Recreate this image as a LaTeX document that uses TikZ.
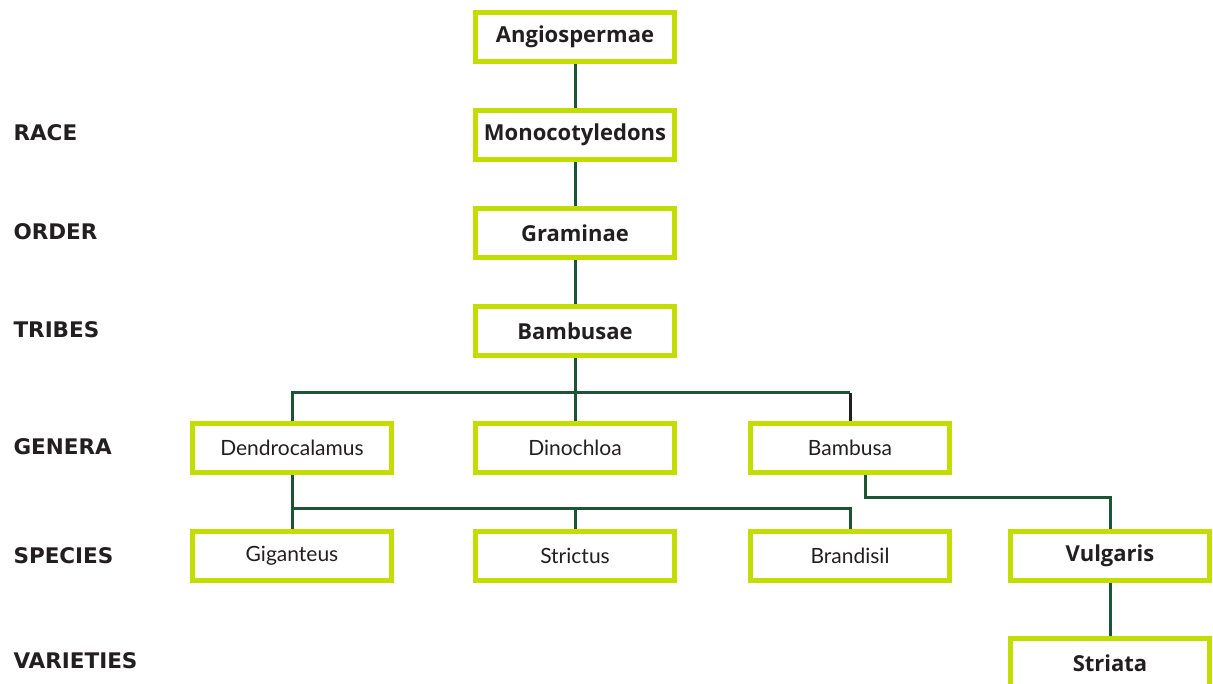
\documentclass[tikz,border=0pt]{standalone}
\usepackage{fontspec}
\setmainfont{Lato}
\newfontfamily\heavyfont{Open Sans}
\newfontfamily\rankfont{DejaVu Sans}
\usetikzlibrary{backgrounds}
\definecolor{boxlime}{RGB}{195,221,0}
\definecolor{linkgreen}{RGB}{28,84,54}
\definecolor{inkblack}{RGB}{35,31,32}
\tikzset{
    taxon/.style={draw=boxlime, line width=4.5pt, fill=white, minimum width=199pt,
        minimum height=49pt, inner sep=0pt, text=inkblack, font=\fontsize{21}{24}\selectfont},
    bold/.style={font=\fontsize{22}{24}\selectfont\heavyfont\bfseries},
    rank/.style={anchor=west, text=inkblack, font=\fontsize{21.5}{24}\selectfont\rankfont\bfseries},
    link/.style={draw=linkgreen, line width=3pt},
}
\begin{document}
\begin{tikzpicture}[x=1pt, y=-1pt]
    \useasboundingbox (0,0) rectangle (1213,684);
    \clip (0,0) rectangle (1213,684);
    % ranks
    \node[rank] (race) at (10, 133) {RACE};
    \node[rank] (order) at (10, 232) {ORDER};
    \node[rank] (tribes) at (10, 330) {TRIBES};
    \node[rank] (genera) at (10, 447) {GENERA};
    \node[rank] (species) at (10, 556) {SPECIES};
    \node[rank] (varieties) at (10, 661) {VARIETIES};
    % taxa
    \node[taxon, bold] (angio) at (575, 37) {Angiospermae};
    \node[taxon, bold] (mono) at (575, 135) {Monocotyledons};
    \node[taxon, bold] (graminae) at (575, 233) {Graminae};
    \node[taxon, bold] (bambusae) at (575, 331) {Bambusae};
    \node[taxon] (dendro) at (292, 448) {Dendrocalamus};
    \node[taxon] (dinochloa) at (575, 448) {Dinochloa};
    \node[taxon] (bambusa) at (850, 448) {Bambusa};
    \node[taxon] (giganteus) at (292, 556) {Giganteus};
    \node[taxon] (strictus) at (575, 556) {Strictus};
    \node[taxon] (brandisil) at (850, 556) {Brandisil};
    \node[taxon, bold] (vulgaris) at (1110, 556) {Vulgaris};
    \node[taxon, bold] (striata) at (1110, 663) {Striata};
    \coordinate (gbar) at (575, 393);
    \coordinate (sbar) at (575, 508);
    \coordinate (vbar) at (865, 497);
    \begin{scope}[on background layer]
        \draw[link] (angio) -- (mono);
        \draw[link] (mono) -- (graminae);
        \draw[link] (graminae) -- (bambusae);
        \draw[link] (bambusae) -- (dinochloa);
        \draw[link] (dendro.north) |- (gbar) -- (gbar -| bambusa.north);
        \draw[link, draw=inkblack] (gbar -| bambusa.north) -- (bambusa.north);
        \draw[link] (dendro) -- (giganteus);
        \draw[link] (sbar -| dendro.south) -- (sbar) -| (brandisil.north);
        \draw[link] (sbar) -- (strictus);
        \draw[link] (bambusa.south -| vbar) -- (vbar) -| (vulgaris.north);
        \draw[link] (vulgaris) -- (striata);
    \end{scope}
\end{tikzpicture}
\end{document}
